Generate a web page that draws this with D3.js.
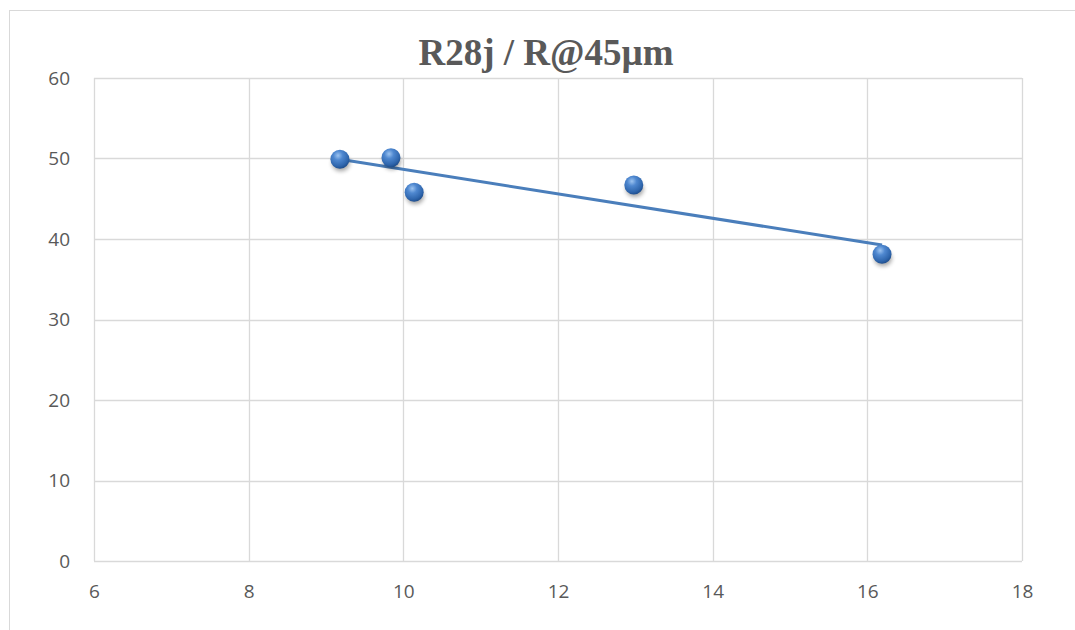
<!DOCTYPE html>
<html>
<head>
<meta charset="utf-8">
<script src="https://cdn.jsdelivr.net/npm/d3@7"></script>
<style>
  body { margin: 0; background: #fff; }
  svg { display: block; }
</style>
</head>
<body>
<div id="chart"></div>
<script>
'use strict';
// values
var xValues = [9.18, 9.84, 10.14, 12.98, 16.19];
var yValues = [49.9, 50.1, 45.8, 46.7, 38.1];
var xTicks = [6, 8, 10, 12, 14, 16, 18];
var yTicks = [0, 10, 20, 30, 40, 50, 60];
var title = "R28j / R@45µm";

var W = 1075, H = 630;
var margin = { top: 78, right: 53, bottom: 69, left: 94 },
    width = W - margin.left - margin.right,
    height = H - margin.top - margin.bottom;

var svg = d3.select("#chart").append("svg")
    .attr("width", W)
    .attr("height", H);

// chart frame
svg.append("rect")
    .attr("x", 9.5).attr("y", 10.5)
    .attr("width", W + 20).attr("height", H + 20)
    .attr("fill", "#fff")
    .attr("stroke", "#d9d9d9");

var defs = svg.append("defs");
var grad = defs.append("radialGradient")
    .attr("id", "ball")
    .attr("cx", "40%").attr("cy", "30%").attr("r", "70%");
grad.append("stop").attr("offset", "0%").attr("stop-color", "#9cc3f0");
grad.append("stop").attr("offset", "35%").attr("stop-color", "#4f88d0");
grad.append("stop").attr("offset", "80%").attr("stop-color", "#2f66ad");
grad.append("stop").attr("offset", "100%").attr("stop-color", "#1f4f8f");
var shadow = defs.append("filter").attr("id", "shadow")
    .attr("x", "-50%").attr("y", "-50%").attr("width", "200%").attr("height", "200%");
shadow.append("feGaussianBlur").attr("stdDeviation", 2.2);

var g = svg.append("g")
    .attr("transform", "translate(" + margin.left + "," + margin.top + ")");

var x = d3.scaleLinear().domain([6, 18]).range([0, width]);
var y = d3.scaleLinear().domain([0, 60]).range([height, 0]);

// gridlines
g.append("g")
    .selectAll("line.v")
    .data(xTicks)
    .enter().append("line")
    .attr("x1", function (d) { return Math.round(x(d)) + 0.5; })
    .attr("x2", function (d) { return Math.round(x(d)) + 0.5; })
    .attr("y1", 0).attr("y2", height)
    .attr("stroke", "#d9d9d9").attr("stroke-width", 1.3);
g.append("g")
    .selectAll("line.h")
    .data(yTicks)
    .enter().append("line")
    .attr("y1", function (d) { return Math.round(y(d)) + 0.5; })
    .attr("y2", function (d) { return Math.round(y(d)) + 0.5; })
    .attr("x1", 0).attr("x2", width)
    .attr("stroke", "#d9d9d9").attr("stroke-width", 1.3);

// axes (labels only)
var xAxis = g.append("g")
    .attr("transform", "translate(0," + height + ")")
    .call(d3.axisBottom(x).tickValues(xTicks).tickSize(0).tickPadding(24));
var yAxis = g.append("g")
    .call(d3.axisLeft(y).tickValues(yTicks).tickSize(0).tickPadding(24));
[xAxis, yAxis].forEach(function (a) {
    a.select(".domain").remove();
    a.selectAll("text")
        .attr("fill", "#595959")
        .style("font-family", "'Open Sans', 'Liberation Sans', sans-serif")
        .style("font-size", "19px");
});

// linear trendline
var n = xValues.length;
var mx = d3.mean(xValues), my = d3.mean(yValues);
var sxy = 0, sxx = 0;
for (var i = 0; i < n; i++) {
    sxy += (xValues[i] - mx) * (yValues[i] - my);
    sxx += (xValues[i] - mx) * (xValues[i] - mx);
}
var slope = sxy / sxx, icpt = my - slope * mx;
var x0 = d3.min(xValues), x1 = d3.max(xValues);
g.append("line")
    .attr("x1", x(x0)).attr("y1", y(icpt + slope * x0))
    .attr("x2", x(x1)).attr("y2", y(icpt + slope * x1))
    .attr("stroke", "#4a7ebb").attr("stroke-width", 3);

var pts = xValues.map(function (d, i) { return { x: d, y: yValues[i] }; });

// shadows
g.selectAll(".shadow")
    .data(pts)
    .enter().append("ellipse")
    .attr("cx", function (d) { return x(d.x) + 1; })
    .attr("cy", function (d) { return y(d.y) + 4; })
    .attr("rx", 9).attr("ry", 8)
    .attr("fill", "#000").attr("opacity", 0.35)
    .attr("filter", "url(#shadow)");

// markers
g.selectAll(".dot")
    .data(pts)
    .enter().append("circle")
    .attr("class", "dot")
    .attr("cx", function (d) { return x(d.x); })
    .attr("cy", function (d) { return y(d.y); })
    .attr("r", 9.5)
    .attr("fill", "url(#ball)");

// title
svg.append("text")
    .attr("x", 546).attr("y", 65)
    .attr("text-anchor", "middle")
    .attr("fill", "#595959")
    .style("font-family", "'Liberation Serif', 'DejaVu Serif', serif")
    .style("font-weight", "bold")
    .style("font-size", "37px")
    .text(title);
</script>
</body>
</html>
